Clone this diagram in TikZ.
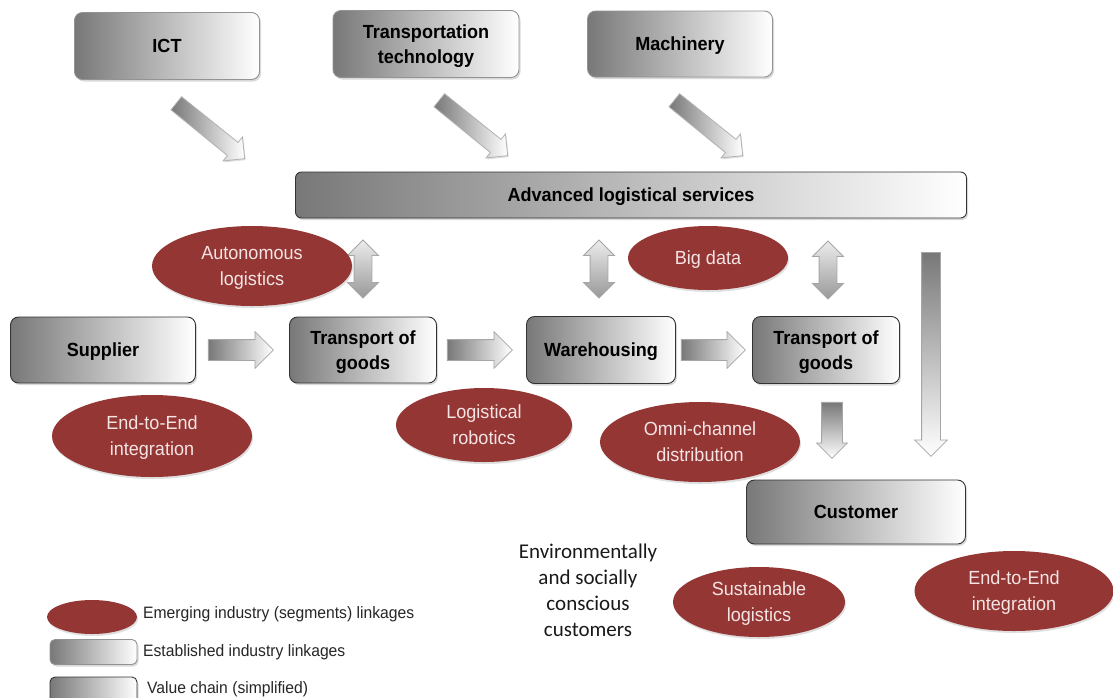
\documentclass[tikz,border=0pt]{standalone}
\usepackage{fontspec}
\setmainfont{Liberation Sans}[FakeStretch=0.95]
\newfontfamily\calib{Carlito}
\usetikzlibrary{shapes.arrows,shapes.geometric,shadows,calc}
\definecolor{emred}{RGB}{148,54,52}
\definecolor{emtext}{RGB}{245,228,228}
\definecolor{boxgray}{RGB}{120,120,120}
\tikzset{
  boxbase/.style={rounded corners=8pt, left color=boxgray, right color=white, line width=0.9pt,
    drop shadow={opacity=0.3, shadow xshift=1.5pt, shadow yshift=-2pt},
    font=\fontsize{19}{25}\selectfont\bfseries, align=center, inner sep=0pt, text depth=0pt},
  estab/.style={boxbase, draw=gray!85},
  chain/.style={boxbase, draw=black!80},
  emerg/.style={ellipse, fill=emred, text=emtext, font=\fontsize{19}{26}\selectfont, align=center, inner sep=0pt,
    text depth=0pt, drop shadow={opacity=0.25, shadow xshift=1pt, shadow yshift=-2pt}},
  harrow/.style={single arrow, anchor=tail, draw=gray!70, line width=0.8pt, left color=boxgray, right color=white,
    inner sep=10pt, single arrow head extend=8pt, minimum height=65pt},
  darrow/.style={single arrow, anchor=tail, shape border rotate=270, draw=gray!70, line width=0.8pt, top color=boxgray, bottom color=white},
  diagarrow/.style={single arrow, anchor=tail, rotate=-39, draw=gray!60, line width=0.8pt, left color=boxgray, right color=white,
    inner sep=8pt, single arrow head extend=7pt, minimum height=88pt,
    drop shadow={opacity=0.25, shadow xshift=1pt, shadow yshift=-1.5pt}},
  dblarrow/.style={double arrow, shape border rotate=90, draw=gray!70, line width=0.8pt, top color=gray!15, bottom color=gray!80,
    inner sep=8.5pt, double arrow head extend=6.5pt, minimum height=58pt},
  legtext/.style={anchor=west, font=\fontsize{16.5}{20}\selectfont, text=black!85, inner sep=0pt},
}
\begin{document}
\begin{tikzpicture}[x=1pt,y=-1pt]
\useasboundingbox (0,0) rectangle (1113,697);

% top established industries
\node[estab, minimum width=185pt, minimum height=67pt] (ict) at (167,46) {ICT};
\node[estab, minimum width=186pt, minimum height=67pt] (tt) at (426,44) {Transportation\\technology};
\node[estab, minimum width=185pt, minimum height=66pt] (mach) at (680,44) {Machinery};

% advanced logistical services
\node[chain, rounded corners=6pt, minimum width=671pt, minimum height=46pt] (als) at (631,195) {Advanced logistical services};

% diagonal arrows
\node[diagarrow] (d1) at (176,103) {};
\node[diagarrow] (d2) at (439,100) {};
\node[diagarrow] (d3) at (674,100) {};

% value chain
\node[chain, minimum width=185pt, minimum height=66pt] (sup) at (103,350) {Supplier};
\node[chain, minimum width=147pt, minimum height=66pt] (tog1) at (363,350) {Transport of\\goods};
\node[chain, minimum width=149pt, minimum height=67pt] (wh) at (601,350) {Warehousing};
\node[chain, minimum width=147pt, minimum height=67pt] (tog2) at (826,350) {Transport of\\goods};
\node[chain, minimum width=219pt, minimum height=64pt] (cust) at (856,512) {Customer};

% horizontal arrows
\node[harrow] (h1) at ($(sup.east)+(12,0)$) {};
\node[harrow] (h2) at ($(tog1.east)+(10,0)$) {};
\node[harrow, minimum height=64pt] (h3) at ($(wh.east)+(5,0)$) {};

% double arrows
\node[dblarrow] (v1) at (363,269) {};
\node[dblarrow] (v2) at (599,269) {};
\node[dblarrow] (v3) at (828,270) {};

% down arrows
\node[darrow, inner sep=10pt, single arrow head extend=5pt, minimum height=56pt] (dn1) at ($(tog2.south)+(6,18)$) {};
\node[darrow, inner sep=9pt, single arrow head extend=7pt, minimum height=204pt] (dn2) at (931,252) {};

% emerging industries
\node[emerg, minimum width=200pt, minimum height=80pt] (auto) at (252,266) {Autonomous\\logistics};
\node[emerg, minimum width=160pt, minimum height=64pt] (bd) at (708,258) {Big data};
\node[emerg, minimum width=200pt, minimum height=82pt] (e2e1) at (152,436) {End-to-End\\integration};
\node[emerg, minimum width=176pt, minimum height=74pt] (rob) at (484,425) {Logistical\\robotics};
\node[emerg, minimum width=200pt, minimum height=80pt] (omni) at (700,442) {Omni-channel\\distribution};
\node[emerg, minimum width=172pt, minimum height=70pt] (sust) at (759,602) {Sustainable\\logistics};
\node[emerg, minimum width=199pt, minimum height=80pt] (e2e2) at (1014,591) {End-to-End\\integration};

% customers text
\node[font=\calib\fontsize{21}{26}\selectfont, align=center, inner sep=0pt, text=black!90] (env) at (588,590)
  {Environmentally\\and socially\\conscious\\customers};

% legend
\node[emerg, minimum width=90pt, minimum height=34pt, drop shadow={opacity=0}] (lg1) at (92,617) {};
\node[legtext] (lt1) at (143,614) {Emerging industry (segments) linkages};
\node[estab, rounded corners=5pt, minimum width=87pt, minimum height=25pt] (lg2) at (93.5,652) {};
\node[legtext] (lt2) at (143,652) {Established industry linkages};
\node[chain, rounded corners=5pt, minimum width=87pt, minimum height=26pt] (lg3) at (93.5,690) {};
\node[legtext] (lt3) at (147,689) {Value chain (simplified)};
\end{tikzpicture}
\end{document}
